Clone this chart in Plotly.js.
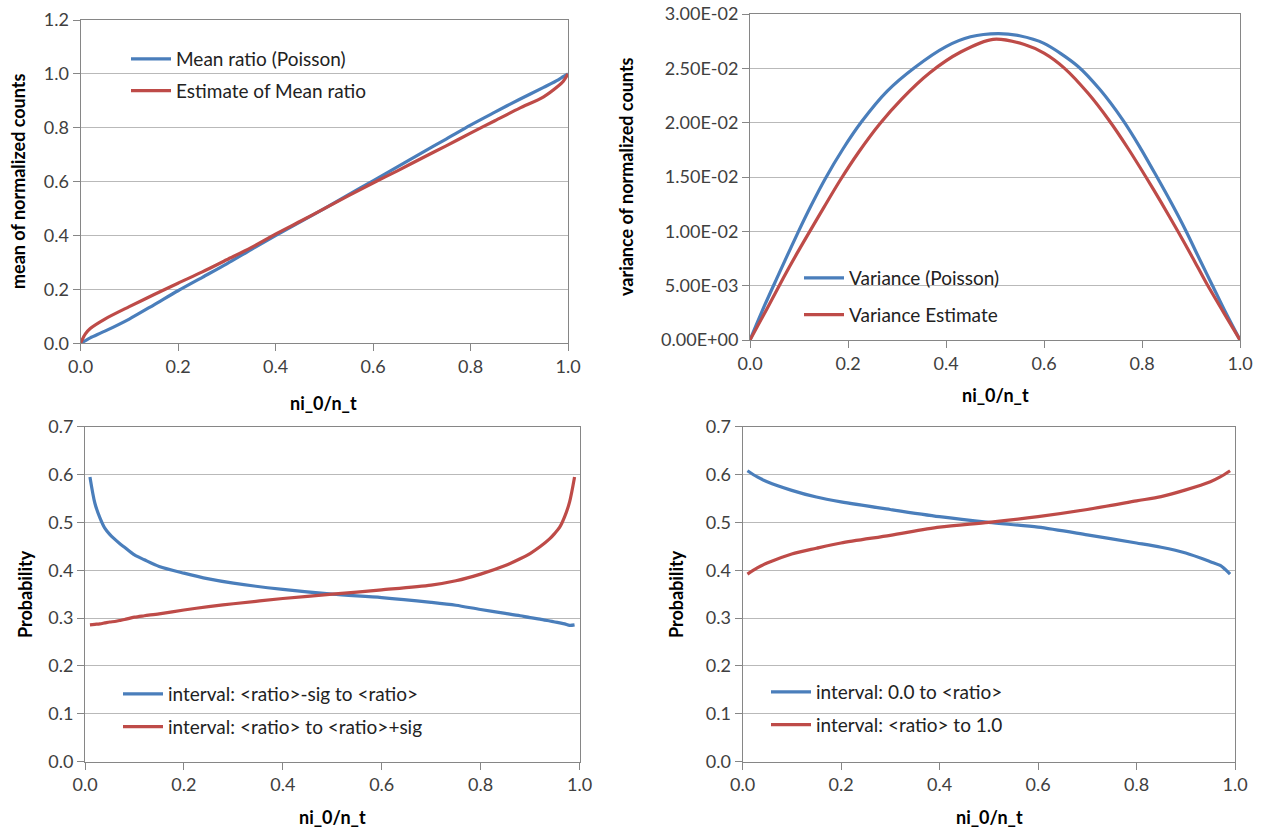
<!DOCTYPE html>
<html>
<head>
<meta charset="utf-8">
<script src="https://cdn.plot.ly/plotly-3.0.1.min.js"></script>
<style>html,body{margin:0;padding:0;background:#fff;}#chart{width:1261px;height:827px;}</style>
</head>
<body>
<div id="chart"></div>
<script>
// ---- Data ----
// Top-left: mean of normalized counts
const meanX = [0, 0.01, 0.02, 0.05, 0.1, 0.15, 0.2, 0.25, 0.3, 0.35, 0.4, 0.45, 0.5, 0.55, 0.6, 0.65, 0.7, 0.75, 0.8, 0.85, 0.9, 0.95, 0.98, 0.99, 1.0];
const meanPoisson = [0, 0.01, 0.02, 0.045, 0.09, 0.142, 0.195, 0.245, 0.295, 0.348, 0.40, 0.45, 0.50, 0.552, 0.603, 0.655, 0.707, 0.758, 0.81, 0.858, 0.905, 0.950, 0.978, 0.99, 1.0];
const meanEstimate = [0, 0.035, 0.055, 0.09, 0.136, 0.18, 0.223, 0.265, 0.31, 0.355, 0.405, 0.452, 0.50, 0.548, 0.595, 0.64, 0.687, 0.733, 0.78, 0.826, 0.872, 0.915, 0.955, 0.972, 1.0];

// Top-right: variance of normalized counts
const varPoissonX = [0, 0.03, 0.054, 0.099, 0.125, 0.153, 0.19, 0.228, 0.28, 0.337, 0.4, 0.45, 0.506, 0.55, 0.6, 0.669, 0.715, 0.76, 0.795, 0.828, 0.86, 0.889, 0.92, 0.944, 0.97, 1.0];
const varPoisson  = [0, 0.0032, 0.0056, 0.0100, 0.0124, 0.0148, 0.0176, 0.0201, 0.0229, 0.0251, 0.0270, 0.0279, 0.0282, 0.0280, 0.0273, 0.0252, 0.0230, 0.0203, 0.0178, 0.0152, 0.0126, 0.0101, 0.0072, 0.0050, 0.0026, 0];
const varEstimateX = [0, 0.035, 0.068, 0.095, 0.122, 0.152, 0.184, 0.222, 0.265, 0.31, 0.367, 0.43, 0.496, 0.56, 0.6, 0.642, 0.69, 0.733, 0.772, 0.808, 0.84, 0.872, 0.903, 0.933, 0.967, 1.0];
const varEstimate  = [0, 0.0029, 0.0057, 0.0079, 0.0100, 0.0123, 0.0147, 0.0173, 0.0199, 0.0222, 0.0246, 0.0265, 0.02767, 0.0272, 0.0264, 0.0250, 0.0227, 0.0202, 0.0176, 0.0150, 0.0126, 0.0101, 0.0076, 0.0051, 0.0025, 0];

// Bottom-left: probability of sigma intervals
const sigX = [0.01, 0.02, 0.03, 0.04, 0.05, 0.06, 0.07, 0.08, 0.1, 0.12, 0.15, 0.2, 0.25, 0.3, 0.4, 0.5, 0.6, 0.7, 0.75, 0.8, 0.85, 0.88, 0.9, 0.92, 0.94, 0.95, 0.96, 0.97, 0.98, 0.99];
const sigLower = [0.595, 0.54, 0.51, 0.488, 0.475, 0.465, 0.456, 0.448, 0.432, 0.422, 0.408, 0.394, 0.382, 0.373, 0.36, 0.35, 0.343, 0.333, 0.327, 0.318, 0.31, 0.305, 0.301, 0.298, 0.294, 0.292, 0.29, 0.288, 0.285, 0.286];
const sigUpper = [0.286, 0.287, 0.288, 0.29, 0.292, 0.293, 0.295, 0.297, 0.302, 0.305, 0.309, 0.317, 0.324, 0.33, 0.341, 0.35, 0.359, 0.369, 0.378, 0.392, 0.41, 0.424, 0.435, 0.449, 0.466, 0.477, 0.49, 0.512, 0.543, 0.595];

// Bottom-right: probability of full intervals
const fullX = [0.01, 0.03, 0.05, 0.1, 0.15, 0.2, 0.3, 0.4, 0.5, 0.6, 0.7, 0.8, 0.85, 0.9, 0.95, 0.97, 0.99];
const fullLower = [0.608, 0.595, 0.585, 0.567, 0.553, 0.543, 0.527, 0.512, 0.50, 0.49, 0.474, 0.457, 0.448, 0.436, 0.418, 0.41, 0.392];
const fullUpper = [0.392, 0.405, 0.415, 0.434, 0.446, 0.457, 0.473, 0.49, 0.50, 0.512, 0.527, 0.545, 0.554, 0.568, 0.585, 0.595, 0.608];

// Tick labels
const xTickVals = [0, 0.2, 0.4, 0.6, 0.8, 1.0];
const xTickText = ['0.0', '0.2', '0.4', '0.6', '0.8', '1.0'];
const meanTickVals = [0, 0.2, 0.4, 0.6, 0.8, 1.0, 1.2];
const meanTickText = ['0.0', '0.2', '0.4', '0.6', '0.8', '1.0', '1.2'];
const varTickVals = [0, 0.005, 0.01, 0.015, 0.02, 0.025, 0.03];
const varTickText = ['0.00E+00', '5.00E-03', '1.00E-02', '1.50E-02', '2.00E-02', '2.50E-02', '3.00E-02'];
const probTickVals = [0, 0.1, 0.2, 0.3, 0.4, 0.5, 0.6, 0.7];
const probTickText = ['0.0', '0.1', '0.2', '0.3', '0.4', '0.5', '0.6', '0.7'];

// ---- Styling ----
const W = 1261, H = 827;
const FONT = 'Lato, "Open Sans", sans-serif';
const BLUE = '#4A7EBB', RED = '#BE4B48';
const px = v => v / W;
const py = v => 1 - v / H;

function line(x, y, name, color, xa, ya, legend) {
  return {x: x, y: y, name: name, type: 'scatter', mode: 'lines',
    line: {color: color, width: 3.2, shape: 'spline', smoothing: 0.8},
    xaxis: xa, yaxis: ya, legend: legend, legendgroup: name, hoverinfo: 'skip'};
}

const traces = [
  line(meanX, meanPoisson, 'Mean ratio (Poisson)', BLUE, 'x', 'y', 'legend'),
  line(meanX, meanEstimate, 'Estimate of Mean ratio', RED, 'x', 'y', 'legend'),
  line(varPoissonX, varPoisson, 'Variance (Poisson)', BLUE, 'x2', 'y2', 'legend2'),
  line(varEstimateX, varEstimate, 'Variance Estimate', RED, 'x2', 'y2', 'legend2'),
  line(sigX, sigLower, 'interval: <ratio>-sig to <ratio>', BLUE, 'x3', 'y3', 'legend3'),
  line(sigX, sigUpper, 'interval: <ratio> to <ratio>+sig', RED, 'x3', 'y3', 'legend3'),
  line(fullX, fullLower, 'interval: 0.0 to <ratio>', BLUE, 'x4', 'y4', 'legend4'),
  line(fullX, fullUpper, 'interval: <ratio> to 1.0', RED, 'x4', 'y4', 'legend4')
];

const tickFont = {family: FONT, size: 18, color: '#404040'};
function xax(domain, anchor) {
  return {domain: domain, anchor: anchor, range: [0, 1], tickvals: xTickVals, ticktext: xTickText,
    showgrid: false, zeroline: false, showline: true, mirror: true, linecolor: '#868686', linewidth: 1,
    ticks: 'outside', ticklen: 7, tickcolor: '#868686', tickfont: tickFont, fixedrange: true};
}
function yax(domain, anchor, range, vals, text) {
  return {domain: domain, anchor: anchor, range: range, tickvals: vals, ticktext: text,
    showgrid: true, gridcolor: '#b9b9b9', gridwidth: 1, zeroline: false, showline: true, mirror: true,
    linecolor: '#868686', linewidth: 1, ticks: 'outside', ticklen: 7, tickcolor: '#868686',
    tickfont: tickFont, fixedrange: true};
}

function legendAt(x, yTop, gap) {
  return {x: px(x), y: py(yTop), xanchor: 'left', yanchor: 'top', bgcolor: 'rgba(0,0,0,0)',
    font: {family: FONT, size: 19, color: '#222'}, traceorder: 'grouped', tracegroupgap: gap,
    itemwidth: 40, borderwidth: 0};
}

const titleFont = {family: FONT, size: 18, color: '#000', weight: 'bold'};
function ann(text, x, y, angle) {
  return {text: '<b>' + text + '</b>', x: px(x), y: py(y), xref: 'paper', yref: 'paper',
    xanchor: 'center', yanchor: 'middle', showarrow: false, textangle: angle || 0, font: titleFont};
}

const layout = {
  width: W, height: H,
  margin: {l: 0, r: 0, t: 0, b: 0},
  paper_bgcolor: '#fff', plot_bgcolor: '#fff',
  font: {family: FONT},
  xaxis: xax([px(80.5), px(568)], 'y'),
  yaxis: yax([py(343.3), py(20)], 'x', [0, 1.2], meanTickVals, meanTickText),
  xaxis2: xax([px(750), px(1240)], 'y2'),
  yaxis2: yax([py(340), py(14)], 'x2', [0, 0.03], varTickVals, varTickText),
  xaxis3: xax([px(85), px(579.5)], 'y3'),
  yaxis3: yax([py(761.7), py(426.7)], 'x3', [0, 0.7], probTickVals, probTickText),
  xaxis4: xax([px(742.5), px(1235)], 'y4'),
  yaxis4: yax([py(761.7), py(426.7)], 'x4', [0, 0.7], probTickVals, probTickText),
  legend: legendAt(126, 40, 4),
  legend2: legendAt(799, 259, 9),
  legend3: legendAt(118, 675, 5),
  legend4: legendAt(766, 673, 5),
  annotations: [
    ann('mean of normalized counts', 18, 182, -90),
    ann('ni_0/n_t', 324, 403),
    ann('variance of normalized counts', 626, 177, -90),
    ann('ni_0/n_t', 995, 395),
    ann('Probability', 25, 594, -90),
    ann('ni_0/n_t', 332, 817),
    ann('Probability', 676, 594, -90),
    ann('ni_0/n_t', 989, 817)
  ],
  showlegend: true
};

Plotly.newPlot('chart', traces, layout, {staticPlot: true, displayModeBar: false});
</script>
</body>
</html>
